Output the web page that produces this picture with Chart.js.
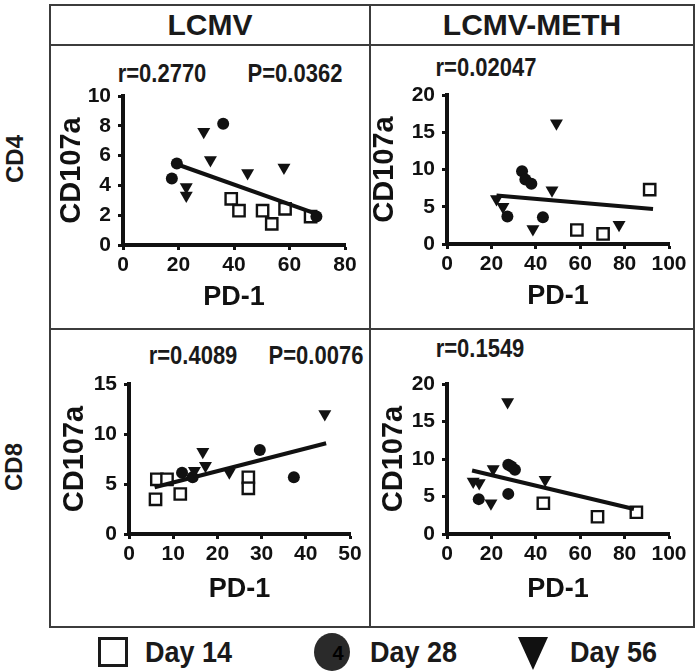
<!DOCTYPE html>
<html>
<head>
<meta charset="utf-8">
<script src="https://cdn.jsdelivr.net/npm/chart.js@4.4.1/dist/chart.umd.min.js"></script>
<style>
    body{margin:0;background:#fff;width:700px;height:672px;position:relative;overflow:hidden;
        font-family:'Liberation Sans',Arial,sans-serif;font-weight:bold;color:#1a1a1a}
    canvas{position:absolute;left:0;top:0}
    .ln{position:absolute;background:#3c3c3c}
    .t{position:absolute;white-space:nowrap;line-height:1;transform:translate(-50%,-50%)}
    .s{transform:translate(-50%,-50%) scaleX(0.88)}
    .rot{transform:translate(-50%,-50%) rotate(-90deg)}
    .l{position:absolute;white-space:nowrap;line-height:1;transform:translateY(-50%) scaleX(0.9);transform-origin:0 50%}
</style>
</head>
<body>
<!-- frame -->
<div class="ln" style="left:50px;top:4px;width:645px;height:2px"></div>
<div class="ln" style="left:50px;top:44px;width:645px;height:2px"></div>
<div class="ln" style="left:50px;top:328px;width:645px;height:2px"></div>
<div class="ln" style="left:50px;top:626px;width:645px;height:2px"></div>
<div class="ln" style="left:49px;top:4px;width:2px;height:624px"></div>
<div class="ln" style="left:369px;top:4px;width:2px;height:624px"></div>
<div class="ln" style="left:693px;top:4px;width:2px;height:624px"></div>

<div class="t" style="left:210px;top:25px;font-size:30px">LCMV</div>
<div class="t" style="left:532px;top:25px;font-size:30px">LCMV-METH</div>
<div class="t rot" style="left:15px;top:159px;font-size:24px">CD4</div>
<div class="t rot" style="left:14px;top:467px;font-size:24px">CD8</div>

<div class="t s" style="left:162px;top:73px;font-size:25px">r=0.2770</div>
<div class="t s" style="left:295px;top:73px;font-size:25px">P=0.0362</div>
<div class="t s" style="left:486px;top:67px;font-size:25px">r=0.02047</div>
<div class="t s" style="left:193px;top:355px;font-size:25px">r=0.4089</div>
<div class="t s" style="left:316px;top:355px;font-size:25px">P=0.0076</div>
<div class="t s" style="left:480px;top:348px;font-size:25px">r=0.1549</div>

<!-- legend -->
<div style="position:absolute;left:98px;top:637px;width:24px;height:24px;border:3px solid #1a1a1a"></div>
<div class="l" style="left:145px;top:652px;font-size:30px">Day 14</div>
<div style="position:absolute;left:314px;top:633px;width:36px;height:38px;border-radius:50%;background:#2a2a2a"></div>
<div class="t" style="left:338px;top:653px;font-size:20px;color:#000">4</div>
<div class="l" style="left:370px;top:652px;font-size:30px">Day 28</div>
<div style="position:absolute;left:518px;top:637px;width:0;height:0;border-left:15px solid transparent;border-right:15px solid transparent;border-top:33px solid #111"></div>
<div class="l" style="left:570px;top:652px;font-size:30px">Day 56</div>

<canvas id="c1" width="700" height="672"></canvas>
<canvas id="c2" width="700" height="672"></canvas>
<canvas id="c3" width="700" height="672"></canvas>
<canvas id="c4" width="700" height="672"></canvas>

<script>
// CD4, LCMV  [PD-1, CD107a]
const cd4LcmvDay14 = [[39,3.1],[41.8,2.3],[50.3,2.3],[53.6,1.42],[58.4,2.43],[67.6,1.91]];
const cd4LcmvDay28 = [[19.4,5.47],[17.6,4.46],[36.1,8.13],[69.7,1.91]];
const cd4LcmvDay56 = [[29.1,7.6],[31.5,5.7],[22.8,3.9],[22.8,3.33],[44.9,4.84],[58,5.2]];
const cd4LcmvFit = [[19.4,5.42],[69.7,2.09]];

// CD4, LCMV-METH
const cd4MethDay14 = [[58.5,1.88],[70.3,1.35],[91.3,7.3]];
const cd4MethDay28 = [[33.8,9.78],[35.3,8.67],[38,8.1],[27.2,3.68],[43.2,3.6]];
const cd4MethDay56 = [[22.3,6.05],[25.2,5.0],[49.3,16.2],[47.3,7.2],[38.7,2.0],[77.5,2.6]];
const cd4MethFit = [[22.3,6.5],[92.8,4.7]];

// CD8, LCMV
const cd8LcmvDay14 = [[6,3.47],[6.3,5.47],[8.6,5.47],[11.6,4.0],[27,5.67],[27,4.57]];
const cd8LcmvDay28 = [[12,6.13],[14.4,5.67],[29.6,8.4],[37.3,5.67]];
const cd8LcmvDay56 = [[14.8,6.33],[16.7,8.23],[17.3,6.83],[22.7,6.17],[44.3,12.0]];
const cd8LcmvFit = [[5.8,4.67],[44.6,9.07]];

// CD8, LCMV-METH
const cd8MethDay14 = [[43.4,4.1],[67.8,2.3],[85.3,2.9]];
const cd8MethDay28 = [[14.3,4.65],[27.6,9.24],[30.6,8.57],[27.6,5.35],[29,9]];
const cd8MethDay56 = [[27.3,17.6],[11.8,7.0],[14.5,6.8],[20.8,8.66],[19.8,4.1],[44.2,7.23]];
const cd8MethFit = [[11.3,8.47],[84.2,3.34]];

// axis ranges [max, step]
const cd4LcmvX = [80, 20], cd4LcmvY = [10, 2];
const cd4MethX = [100, 20], cd4MethY = [20, 5];
const cd8LcmvX = [50, 10], cd8LcmvY = [15, 5];
const cd8MethX = [100, 20], cd8MethY = [20, 5];

const ink = '#111';
const fam = "'Liberation Sans',Arial,sans-serif";

function axis(range, title, fit, titleFont, isX){
    return {
        type: 'linear',
        min: 0,
        max: range[0],
        ticks: {
            stepSize: range[1],
            color: ink,
            padding: isX ? 3 : 7,
            font: {family: fam, size: 21, weight: 'bold'},
        },
        grid: {
            display: true,
            drawOnChartArea: false,
            drawTicks: true,
            tickLength: 5,
            tickWidth: 3,
            tickColor: ink,
        },
        border: {display: true, width: 4, color: ink},
        title: {display: true, text: title, color: ink, padding: 0, font: titleFont},
        afterFit: function(s){ if (isX) s.height = fit; else s.width = fit; }
    };
}

// area = [left, top, right, bottom] of the plotting box on the page
function panel(id, area, xr, yr, d14, d28, d56, fit, yDist, xDist){
    const yFont = {family: fam, size: 29, weight: 'bold', lineHeight: 1.2};
    const xFont = {family: fam, size: 27, weight: 'bold', lineHeight: 1.2};
    const wY = yDist + 29 * 0.6;
    const hX = xDist + 27 * 0.6;
    new Chart(document.getElementById(id).getContext('2d'), {
        type: 'scatter',
        data: {
            datasets: [
                {data: d56, pointStyle: 'triangle', rotation: 180, pointRadius: 7.5, backgroundColor: ink, borderWidth: 0, order: 0, clip: false},
                {data: d28, pointStyle: 'circle', pointRadius: 6, backgroundColor: ink, borderWidth: 0, order: 1, clip: false},
                {type: 'line', data: fit, showLine: true, pointRadius: 0, borderColor: ink, borderWidth: 4, order: 2, clip: false},
                {data: d14, pointStyle: 'rect', pointRadius: 8, backgroundColor: '#fff', borderColor: ink, borderWidth: 2.4, order: 3, clip: false},
            ]
        },
        options: {
            responsive: false,
            animation: false,
            events: [],
            devicePixelRatio: 1,
            layout: {padding: {left: area[0] - wY, top: area[1], right: 700 - area[2], bottom: 672 - area[3] - hX}},
            plugins: {legend: {display: false}, tooltip: {enabled: false}},
            scales: {
                x: axis(xr, 'PD-1', hX, xFont, true),
                y: axis(yr, 'CD107a', wY, yFont, false),
            }
        }
    });
}

panel('c1', [123, 96, 345, 245], cd4LcmvX, cd4LcmvY, cd4LcmvDay14, cd4LcmvDay28, cd4LcmvDay56, cd4LcmvFit, 51, 53);
panel('c2', [447, 95, 669, 244], cd4MethX, cd4MethY, cd4MethDay14, cd4MethDay28, cd4MethDay56, cd4MethFit, 62, 53);
panel('c3', [129, 384, 350, 534], cd8LcmvX, cd8LcmvY, cd8LcmvDay14, cd8LcmvDay28, cd8LcmvDay56, cd8LcmvFit, 54, 56);
panel('c4', [447, 384, 669, 534], cd8MethX, cd8MethY, cd8MethDay14, cd8MethDay28, cd8MethDay56, cd8MethFit, 53, 56);
</script>
</body>
</html>
